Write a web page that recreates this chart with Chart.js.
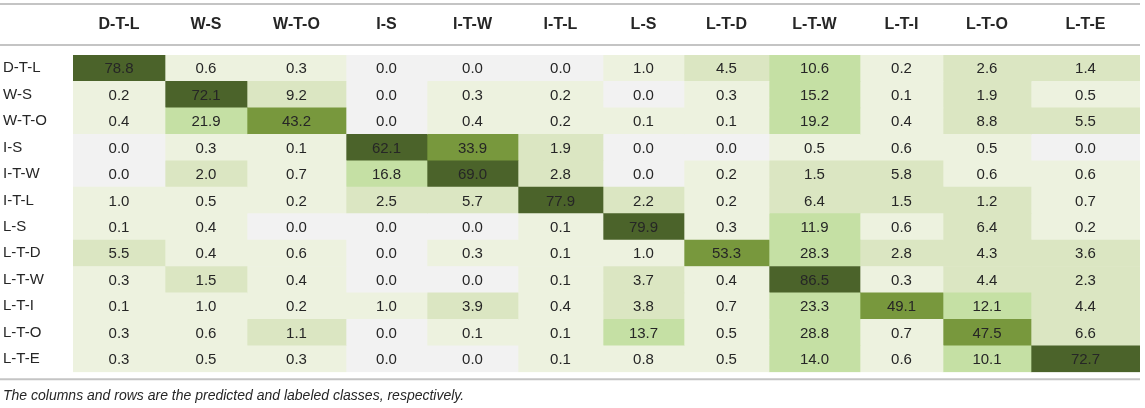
<!DOCTYPE html>
<html>
<head>
<meta charset="utf-8">
<script src="https://cdn.jsdelivr.net/npm/chart.js@4.4.1/dist/chart.umd.min.js"></script>
<style>
  html, body { margin: 0; padding: 0; background: #ffffff; }
  #wrap { width: 1145px; height: 408px; }
</style>
</head>
<body>
<div id="wrap"><canvas id="confusionChart"></canvas></div>
<script>
// class names: columns = predicted, rows = labeled
const classLabels = ['D-T-L', 'W-S', 'W-T-O', 'I-S', 'I-T-W', 'I-T-L', 'L-S', 'L-T-D', 'L-T-W', 'L-T-I', 'L-T-O', 'L-T-E'];

// one array per labeled class (row), values in %
const rowDTL = [78.8, 0.6, 0.3, 0.0, 0.0, 0.0, 1.0, 4.5, 10.6, 0.2, 2.6, 1.4];
const rowWS  = [0.2, 72.1, 9.2, 0.0, 0.3, 0.2, 0.0, 0.3, 15.2, 0.1, 1.9, 0.5];
const rowWTO = [0.4, 21.9, 43.2, 0.0, 0.4, 0.2, 0.1, 0.1, 19.2, 0.4, 8.8, 5.5];
const rowIS  = [0.0, 0.3, 0.1, 62.1, 33.9, 1.9, 0.0, 0.0, 0.5, 0.6, 0.5, 0.0];
const rowITW = [0.0, 2.0, 0.7, 16.8, 69.0, 2.8, 0.0, 0.2, 1.5, 5.8, 0.6, 0.6];
const rowITL = [1.0, 0.5, 0.2, 2.5, 5.7, 77.9, 2.2, 0.2, 6.4, 1.5, 1.2, 0.7];
const rowLS  = [0.1, 0.4, 0.0, 0.0, 0.0, 0.1, 79.9, 0.3, 11.9, 0.6, 6.4, 0.2];
const rowLTD = [5.5, 0.4, 0.6, 0.0, 0.3, 0.1, 1.0, 53.3, 28.3, 2.8, 4.3, 3.6];
const rowLTW = [0.3, 1.5, 0.4, 0.0, 0.0, 0.1, 3.7, 0.4, 86.5, 0.3, 4.4, 2.3];
const rowLTI = [0.1, 1.0, 0.2, 1.0, 3.9, 0.4, 3.8, 0.7, 23.3, 49.1, 12.1, 4.4];
const rowLTO = [0.3, 0.6, 1.1, 0.0, 0.1, 0.1, 13.7, 0.5, 28.8, 0.7, 47.5, 6.6];
const rowLTE = [0.3, 0.5, 0.3, 0.0, 0.0, 0.1, 0.8, 0.5, 14.0, 0.6, 10.1, 72.7];

const matrix = [rowDTL, rowWS, rowWTO, rowIS, rowITW, rowITL, rowLS, rowLTD, rowLTW, rowLTI, rowLTO, rowLTE];

// layout: table column widths (px), not data
const colWidths = [92, 82, 99, 81, 91, 85, 81, 85, 91, 83, 88, 109];
const tableWidth = colWidths.reduce((a, b) => a + b, 0);
const colCenters = colWidths.map((w, i) => colWidths.slice(0, i).reduce((a, b) => a + b, 0) + w / 2);

const FONT = '"Liberation Sans", Arial, Helvetica, sans-serif';
const TEXT = '#262626';
const RULE = '#c4c4c4';

function shade(v) {
  if (v === 0) return '#f2f2f2';
  if (v <= 1.0) return '#edf2df';
  if (v < 10) return '#dbe6c2';
  if (v < 30) return '#c5e0a4';
  if (v < 60) return '#78983d';
  return '#4b632a';
}

// each predicted class is one stacked column of cells
const datasets = classLabels.map((name, j) => ({
  label: name,
  data: matrix.map(() => colWidths[j]),
  backgroundColor: ctx => shade(matrix[ctx.dataIndex][j]),
  borderWidth: 0,
  barPercentage: 1,
  categoryPercentage: 1,
  stack: 'table'
}));

// draws the numbers inside the cells and the table rules
const tablePlugin = {
  id: 'tablePlugin',
  beforeDraw(chart) {
    const { ctx, chartArea } = chart;
    ctx.save();
    ctx.strokeStyle = RULE;
    ctx.lineWidth = 2;
    [4, chartArea.top - 10, chartArea.bottom + 7].forEach(y => {
      ctx.beginPath();
      ctx.moveTo(0, y);
      ctx.lineTo(chartArea.right, y);
      ctx.stroke();
    });
    ctx.restore();
  },
  afterDatasetsDraw(chart) {
    const { ctx } = chart;
    ctx.save();
    ctx.font = '15px ' + FONT;
    ctx.fillStyle = TEXT;
    ctx.textAlign = 'center';
    ctx.textBaseline = 'middle';
    chart.data.datasets.forEach((ds, j) => {
      chart.getDatasetMeta(j).data.forEach((bar, i) => {
        ctx.fillText(matrix[i][j].toFixed(1), (bar.x + bar.base) / 2, bar.y + 1);
      });
    });
    ctx.restore();
  }
};

new Chart(document.getElementById('confusionChart'), {
  type: 'bar',
  data: {
    labels: classLabels,
    datasets: datasets
  },
  options: {
    indexAxis: 'y',
    responsive: true,
    maintainAspectRatio: false,
    animation: false,
    layout: {
      padding: { left: 3, right: 5, top: 0, bottom: 0 }
    },
    scales: {
      x: {
        position: 'top',
        stacked: true,
        min: 0,
        max: tableWidth,
        grid: { display: false },
        border: { display: false },
        afterBuildTicks: scale => {
          scale.ticks = colCenters.map(v => ({ value: v }));
        },
        afterFit: scale => { scale.height = 55; },
        ticks: {
          autoSkip: false,
          maxRotation: 0,
          padding: 13,
          color: TEXT,
          font: { family: FONT, size: 16, weight: 'bold' },
          callback: (value, index) => classLabels[index]
        }
      },
      y: {
        stacked: true,
        grid: { display: false },
        border: { display: false },
        afterFit: scale => { scale.width = 70; },
        ticks: {
          crossAlign: 'far',
          color: TEXT,
          font: { family: FONT, size: 15 }
        }
      }
    },
    plugins: {
      legend: { display: false },
      tooltip: { enabled: false },
      title: {
        display: true,
        position: 'bottom',
        align: 'start',
        text: 'The columns and rows are the predicted and labeled classes, respectively.',
        color: TEXT,
        font: { family: FONT, size: 14, style: 'italic', weight: 'normal' },
        padding: { top: 16, bottom: 3 }
      }
    }
  },
  plugins: [tablePlugin]
});
</script>
</body>
</html>
